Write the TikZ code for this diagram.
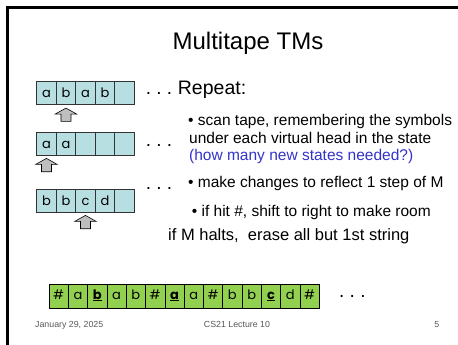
\documentclass[tikz,border=0pt]{standalone}
\usepackage{fontspec}
\setmainfont{Liberation Sans}
\newfontfamily\tapefont{Poppins}
\definecolor{tapecyan}{RGB}{183,222,224}
\definecolor{tapegreen}{RGB}{146,208,80}
\definecolor{askblue}{RGB}{51,51,204}
\definecolor{footgrey}{RGB}{89,89,89}
\definecolor{headgrey}{RGB}{190,190,190}

\begin{document}
\begin{tikzpicture}[x=1pt,y=-1pt,
  cell/.style={draw=black!80, line width=0.6pt, fill=tapecyan,
    minimum width=19.5pt, minimum height=23pt, inner sep=0pt, outer sep=0pt,
    text height=11pt, text depth=2pt, anchor=north west,
    font=\tapefont\fontsize{13}{13}\selectfont},
  gcell/.style={cell, fill=tapegreen, draw=black, minimum width=19.3pt,
    minimum height=24pt, text height=10pt, text depth=4pt},
  body/.style={anchor=base west, inner sep=0pt, font=\fontsize{15.5}{15.5}\selectfont},
  dotsmark/.style={anchor=base west, inner sep=0pt, font=\fontsize{19}{19}\selectfont},
  foot/.style={inner sep=0pt, text=footgrey, font=\fontsize{8.8}{8.8}\selectfont},
  headup/.pic={
    \draw[fill=headgrey, line width=0.6pt, line join=miter]
      (0,0) -- (10.8,6) -- (5,6) -- (5,13.3) -- (-5,13.3) -- (-5,6) -- (-10.8,6) -- cycle;
  }
]
\useasboundingbox (0,0) rectangle (458,345);
\fill[white] (0,0) rectangle (458,345);

% slide frame
\draw[line width=3pt, line cap=rect, line join=miter] (7.8,346) -- (7.8,7.2) -- (459,7.2);

% title
\node[anchor=base, inner sep=0pt, font=\fontsize{24}{24}\selectfont] (title) at (248,50) {Multitape TMs};

% the three virtual tapes
\foreach \s [count=\i] in {a,b,a,b,{}}
  \node[cell] (ta\i) at ({36.7+19.5*(\i-1)},81.7) {\s};
\foreach \s [count=\i] in {a,a,{},{},{}}
  \node[cell] (tb\i) at ({36.7+19.5*(\i-1)},132) {\s};
\foreach \s [count=\i] in {b,b,c,d,{}}
  \node[cell] (tc\i) at ({36.7+19.5*(\i-1)},189) {\s};

% virtual heads
\pic at ([yshift=-3.4pt]ta2.south) {headup};
\pic at ([yshift=-3.4pt]tb1.south) {headup};
\pic at ([yshift=-3.4pt]tc3.south) {headup};

% dots after each tape
\node[dotsmark] (dotsa) at (145.6,95) {.\ .\ .};
\node[dotsmark] (dotsb) at (145.6,146) {.\ .\ .};
\node[dotsmark] (dotsc) at (145.6,189) {.\ .\ .};

% algorithm text
\node[anchor=base west, inner sep=0pt, font=\fontsize{19.5}{19.5}\selectfont] (repeat) at (177.7,95) {Repeat:};
\node[body] (scan1) at (188,125.7) {• scan tape, remembering the symbols};
\node[body] (scan2) at (189,143) {under each virtual head in the state};
\node[body, text=askblue] (scan3) at (189,160) {(how many new states needed?)};
\node[body] (step) at (188,187.3) {• make changes to reflect 1 step of M};
\node[body] (shift) at (191.7,216.7) {• if hit \#, shift to right to make room};
\node[body, font=\fontsize{16.5}{16.5}\selectfont] (halt) at (168,240) {if M halts,\ \ erase all but 1st string};

% single tape holding all the virtual tapes
\newcommand\marked[1]{\underline{\textbf{#1}}}
\foreach \s [count=\i] in {\#,a,\marked{b},a,b,\#,\marked{a},a,\#,b,b,\marked{c},d,\#}
  \node[gcell] (g\i) at ({49+19.3*(\i-1)},284) {\s};
\node[dotsmark] (gdots) at (339,297) {.\ .\ .};

% footer
\node[foot, anchor=base west] (date) at (35,327) {January 29, 2025};
\node[foot, anchor=base] (course) at (237,327) {CS21 Lecture 10};
\node[foot, anchor=base east] (page) at (439.5,327) {5};
\end{tikzpicture}
\end{document}
